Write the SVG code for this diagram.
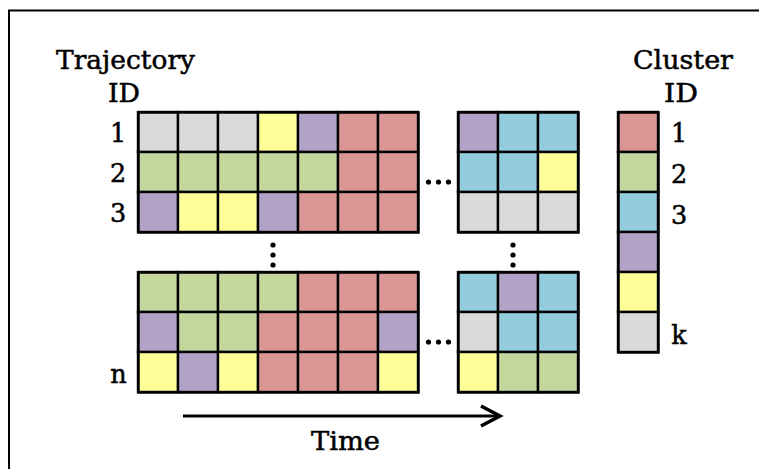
<svg xmlns="http://www.w3.org/2000/svg" width="759" height="469" viewBox="0 0 759 469">
<style>
.t{font-family:"DejaVu Serif","Liberation Serif",serif;font-size:25.5px;fill:#000;stroke:#000;stroke-width:0.5}
.c rect{stroke:#000;stroke-width:2.4}
.g{fill:#d9d9d9}.y{fill:#ffff99}.p{fill:#b3a2c7}.r{fill:#d99694}.n{fill:#c3d69b}.b{fill:#93cddd}
.o{fill:none;stroke:#000;stroke-width:3}
.d{fill:#000}
</style>
<rect width="759" height="469" fill="#fff"/>
<g id="frame"><path d="M9,469 V10.5 H759" fill="none" stroke="#000" stroke-width="2"/></g>
<g id="traj-label">
<text class="t" x="56" y="69" textLength="139" lengthAdjust="spacingAndGlyphs">Trajectory</text>
<text class="t" x="108" y="102" textLength="32" lengthAdjust="spacingAndGlyphs">ID</text>
<text class="t" x="118" y="142" text-anchor="middle">1</text>
<text class="t" x="118" y="182" text-anchor="middle">2</text>
<text class="t" x="118" y="222" text-anchor="middle">3</text>
<text class="t" x="118.5" y="383" text-anchor="middle">n</text>
</g>
<g id="grid-top-left" class="c">
<rect class="g" x="138" y="112" width="40" height="40"/><rect class="g" x="178" y="112" width="40" height="40"/><rect class="g" x="218" y="112" width="40" height="40"/><rect class="y" x="258" y="112" width="40" height="40"/><rect class="p" x="298" y="112" width="40" height="40"/><rect class="r" x="338" y="112" width="40" height="40"/><rect class="r" x="378" y="112" width="40" height="40"/>
<rect class="n" x="138" y="152" width="40" height="40"/><rect class="n" x="178" y="152" width="40" height="40"/><rect class="n" x="218" y="152" width="40" height="40"/><rect class="n" x="258" y="152" width="40" height="40"/><rect class="n" x="298" y="152" width="40" height="40"/><rect class="r" x="338" y="152" width="40" height="40"/><rect class="r" x="378" y="152" width="40" height="40"/>
<rect class="p" x="138" y="192" width="40" height="40"/><rect class="y" x="178" y="192" width="40" height="40"/><rect class="y" x="218" y="192" width="40" height="40"/><rect class="p" x="258" y="192" width="40" height="40"/><rect class="r" x="298" y="192" width="40" height="40"/><rect class="r" x="338" y="192" width="40" height="40"/><rect class="r" x="378" y="192" width="40" height="40"/>
<rect class="o" x="138.5" y="112.5" width="280" height="120"/>
</g>
<g id="grid-top-right" class="c">
<rect class="p" x="458" y="112" width="40" height="40"/><rect class="b" x="498" y="112" width="40" height="40"/><rect class="b" x="538" y="112" width="40" height="40"/>
<rect class="b" x="458" y="152" width="40" height="40"/><rect class="b" x="498" y="152" width="40" height="40"/><rect class="y" x="538" y="152" width="40" height="40"/>
<rect class="g" x="458" y="192" width="40" height="40"/><rect class="g" x="498" y="192" width="40" height="40"/><rect class="g" x="538" y="192" width="40" height="40"/>
<rect class="o" x="458.5" y="112.5" width="120" height="120"/>
</g>
<g id="grid-bottom-left" class="c">
<rect class="n" x="138" y="272" width="40" height="40"/><rect class="n" x="178" y="272" width="40" height="40"/><rect class="n" x="218" y="272" width="40" height="40"/><rect class="n" x="258" y="272" width="40" height="40"/><rect class="r" x="298" y="272" width="40" height="40"/><rect class="r" x="338" y="272" width="40" height="40"/><rect class="r" x="378" y="272" width="40" height="40"/>
<rect class="p" x="138" y="312" width="40" height="40"/><rect class="n" x="178" y="312" width="40" height="40"/><rect class="n" x="218" y="312" width="40" height="40"/><rect class="r" x="258" y="312" width="40" height="40"/><rect class="r" x="298" y="312" width="40" height="40"/><rect class="r" x="338" y="312" width="40" height="40"/><rect class="p" x="378" y="312" width="40" height="40"/>
<rect class="y" x="138" y="352" width="40" height="40"/><rect class="p" x="178" y="352" width="40" height="40"/><rect class="y" x="218" y="352" width="40" height="40"/><rect class="r" x="258" y="352" width="40" height="40"/><rect class="r" x="298" y="352" width="40" height="40"/><rect class="r" x="338" y="352" width="40" height="40"/><rect class="y" x="378" y="352" width="40" height="40"/>
<rect class="o" x="138.5" y="272.5" width="280" height="120"/>
</g>
<g id="grid-bottom-right" class="c">
<rect class="b" x="458" y="272" width="40" height="40"/><rect class="p" x="498" y="272" width="40" height="40"/><rect class="b" x="538" y="272" width="40" height="40"/>
<rect class="g" x="458" y="312" width="40" height="40"/><rect class="b" x="498" y="312" width="40" height="40"/><rect class="b" x="538" y="312" width="40" height="40"/>
<rect class="y" x="458" y="352" width="40" height="40"/><rect class="n" x="498" y="352" width="40" height="40"/><rect class="n" x="538" y="352" width="40" height="40"/>
<rect class="o" x="458.5" y="272.5" width="120" height="120"/>
</g>
<g id="ellipses">
<circle class="d" cx="428.5" cy="182" r="2.6"/><circle class="d" cx="438.5" cy="182" r="2.6"/><circle class="d" cx="448.5" cy="182" r="2.6"/>
<circle class="d" cx="428.5" cy="342" r="2.6"/><circle class="d" cx="438.5" cy="342" r="2.6"/><circle class="d" cx="448.5" cy="342" r="2.6"/>
<circle class="d" cx="273" cy="245" r="2.6"/><circle class="d" cx="273" cy="255" r="2.6"/><circle class="d" cx="273" cy="265" r="2.6"/>
<circle class="d" cx="513" cy="245" r="2.6"/><circle class="d" cx="513" cy="255" r="2.6"/><circle class="d" cx="513" cy="265" r="2.6"/>
</g>
<g id="cluster-legend" class="c">
<rect class="r" x="618" y="112" width="40" height="40"/>
<rect class="n" x="618" y="152" width="40" height="40"/>
<rect class="b" x="618" y="192" width="40" height="40"/>
<rect class="p" x="618" y="232" width="40" height="40"/>
<rect class="y" x="618" y="272" width="40" height="40"/>
<rect class="g" x="618" y="312" width="40" height="40"/>
<rect class="o" x="618.5" y="112.5" width="40" height="240"/>
</g>
<g id="cluster-label">
<text class="t" x="633" y="69" textLength="100" lengthAdjust="spacingAndGlyphs">Cluster</text>
<text class="t" x="664" y="102" textLength="34" lengthAdjust="spacingAndGlyphs">ID</text>
<text class="t" x="679" y="142" text-anchor="middle">1</text>
<text class="t" x="679" y="183" text-anchor="middle">2</text>
<text class="t" x="679" y="224" text-anchor="middle">3</text>
<text class="t" x="679" y="344" text-anchor="middle">k</text>
</g>
<g id="connectors">
<line x1="183" y1="416" x2="499" y2="416" stroke="#000" stroke-width="3"/>
<polyline points="481,406 500,416 481,426" fill="none" stroke="#000" stroke-width="3.5"/>
</g>
<g id="time-label">
<text class="t" x="311" y="450" textLength="69" lengthAdjust="spacingAndGlyphs">Time</text>
</g>
</svg>
